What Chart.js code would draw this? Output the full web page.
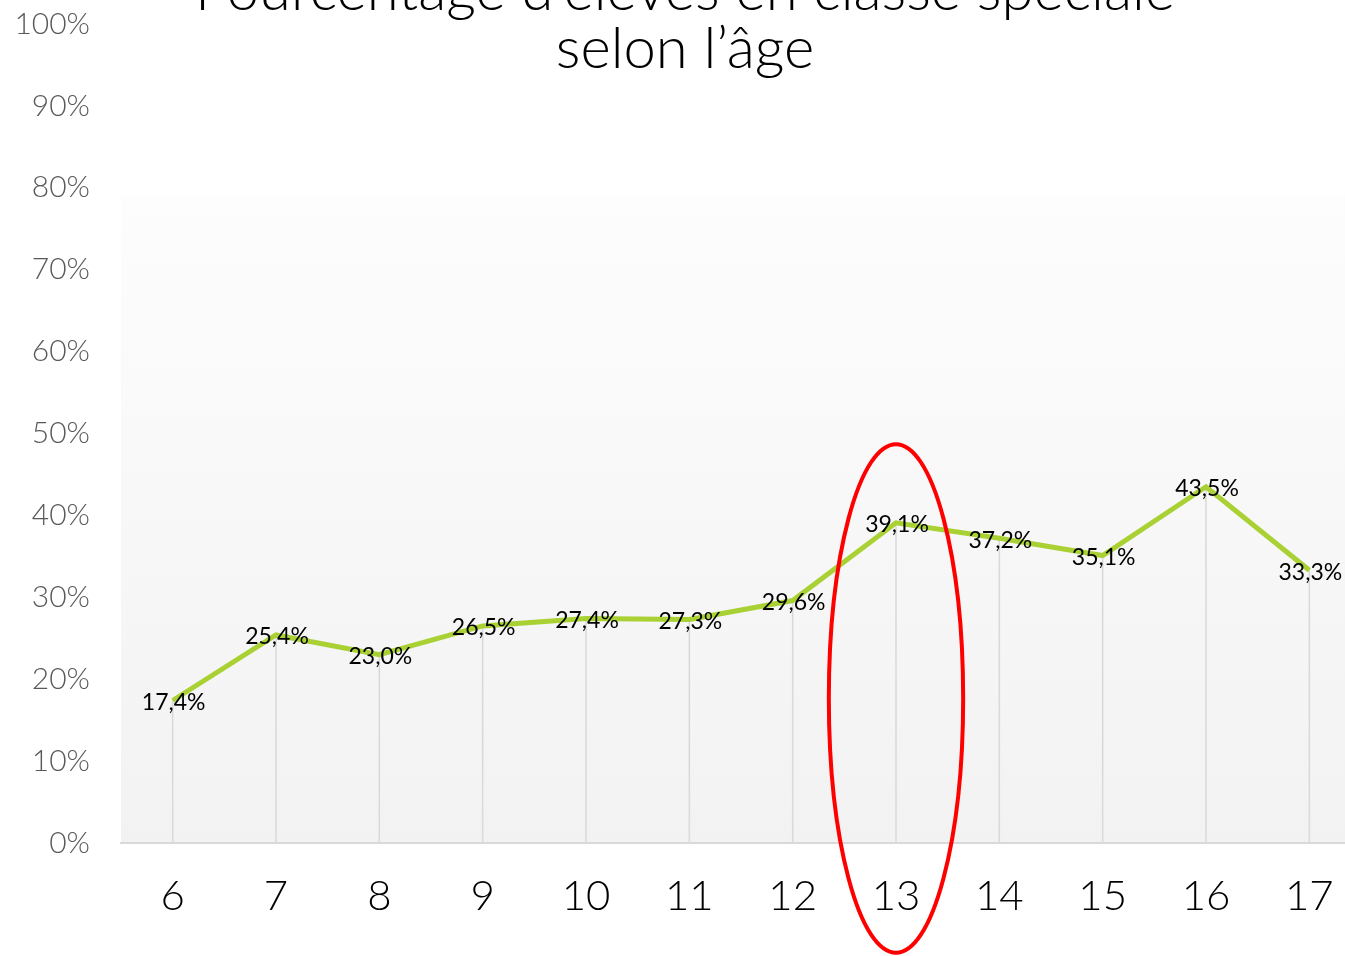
<!DOCTYPE html>
<html lang="fr">
<head>
<meta charset="utf-8">
<title>Pourcentage d'élèves en classe spéciale selon l'âge</title>
<script src="https://cdn.jsdelivr.net/npm/chart.js@4/dist/chart.umd.min.js"></script>
<style>
  html, body { margin: 0; padding: 0; background: #fff; overflow: hidden; }
  #wrap { width: 1345px; height: 956px; overflow: hidden; position: relative; }
  canvas { position: absolute; left: 0; top: -25px; }
</style>
</head>
<body>
<div id="wrap">
  <canvas id="ageChart" width="1362" height="981"></canvas>
</div>
<script>
  // données
  const ages = ["6","7","8","9","10","11","12","13","14","15","16","17"];
  const pourcentages = [17.4, 25.4, 23.0, 26.5, 27.4, 27.3, 29.6, 39.1, 37.2, 35.1, 43.5, 33.3];
  const yTicks = [0, 10, 20, 30, 40, 50, 60, 70, 80, 90, 100];
  const titleLines = ["Pourcentage d\u2019élèves en classe spéciale", "selon l\u2019âge"];
  const highlightAge = "13";

  const FONT = "Lato, 'Noto Sans', sans-serif";

  function fmt(v) {
    return v.toFixed(1).replace(".", ",") + "%";
  }

  // fond dégradé de la zone de tracé
  const plotBg = {
    id: "plotBg",
    beforeDraw(chart) {
      const { ctx, chartArea: a, scales } = chart;
      const top = scales.y.getPixelForValue(79.2);
      const g = ctx.createLinearGradient(0, top, 0, a.bottom);
      g.addColorStop(0, "#fdfdfd");
      g.addColorStop(1, "#f2f2f2");
      ctx.save();
      ctx.fillStyle = g;
      ctx.fillRect(a.left, top, a.right - a.left, a.bottom - top);
      ctx.restore();
    }
  };

  // lignes de projection verticales
  const dropLines = {
    id: "dropLines",
    beforeDatasetsDraw(chart) {
      const { ctx, chartArea: a } = chart;
      const meta = chart.getDatasetMeta(0);
      ctx.save();
      ctx.strokeStyle = "#d9d9d9";
      ctx.lineWidth = 1.5;
      meta.data.forEach(p => {
        ctx.beginPath();
        ctx.moveTo(p.x, p.y);
        ctx.lineTo(p.x, a.bottom);
        ctx.stroke();
      });
      ctx.restore();
    }
  };

  // étiquettes de valeurs
  const valueLabels = {
    id: "valueLabels",
    afterDatasetsDraw(chart) {
      const { ctx } = chart;
      const meta = chart.getDatasetMeta(0);
      ctx.save();
      ctx.font = "23px " + FONT;
      ctx.fillStyle = "#000";
      ctx.textAlign = "center";
      ctx.textBaseline = "middle";
      meta.data.forEach((p, i) => {
        ctx.fillText(fmt(pourcentages[i]), p.x + 1, p.y + 2);
      });
      ctx.restore();
    }
  };

  // titre + ellipse rouge
  const overlay = {
    id: "overlay",
    afterDraw(chart) {
      const { ctx, scales } = chart;
      ctx.save();
      ctx.font = "300 58px " + FONT;
      ctx.fillStyle = "#000";
      ctx.textAlign = "center";
      ctx.textBaseline = "alphabetic";
      ctx.fillText(titleLines[0], 685, 35);
      ctx.fillText(titleLines[1], 685, 93);

      const i = ages.indexOf(highlightAge);
      const cx = scales.x.getPixelForValue(i);
      const w = scales.x.getPixelForValue(1) - scales.x.getPixelForValue(0);
      const yTop = scales.y.getPixelForValue(48.7);
      const yBot = scales.y.getPixelForValue(-13.4);
      ctx.strokeStyle = "#ff0000";
      ctx.lineWidth = 4;
      ctx.beginPath();
      ctx.ellipse(cx, (yTop + yBot) / 2, w * 0.65, (yBot - yTop) / 2, 0, 0, Math.PI * 2);
      ctx.stroke();
      ctx.restore();
    }
  };

  new Chart(document.getElementById("ageChart"), {
    type: "line",
    data: {
      labels: ages,
      datasets: [{
        data: pourcentages,
        borderColor: "#a9d134",
        borderWidth: 5,
        pointRadius: 0,
        tension: 0,
        fill: false
      }]
    },
    options: {
      responsive: false,
      animation: false,
      devicePixelRatio: 1,
      layout: { padding: { top: 22, right: 1, bottom: 0, left: 0 } },
      plugins: {
        legend: { display: false },
        title: { display: false },
        tooltip: { enabled: false }
      },
      scales: {
        x: {
          offset: true,
          grid: { display: false, drawTicks: false },
          border: { display: true, color: "#d9d9d9", width: 2 },
          ticks: {
            color: "#000",
            padding: 28,
            font: { family: FONT, size: 42, weight: "300" }
          },
          afterFit(scale) { scale.height = 113; }
        },
        y: {
          min: 0,
          max: 100,
          afterBuildTicks(scale) {
            scale.ticks = yTicks.map(v => ({ value: v }));
          },
          grid: { display: false, drawTicks: false },
          border: { display: false },
          ticks: {
            color: "#595959",
            padding: 31,
            font: { family: FONT, size: 30, weight: "300" },
            callback: v => v + "%"
          },
          afterFit(scale) { scale.width = 121; }
        }
      }
    },
    plugins: [plotBg, dropLines, valueLabels, overlay]
  });
</script>
</body>
</html>
